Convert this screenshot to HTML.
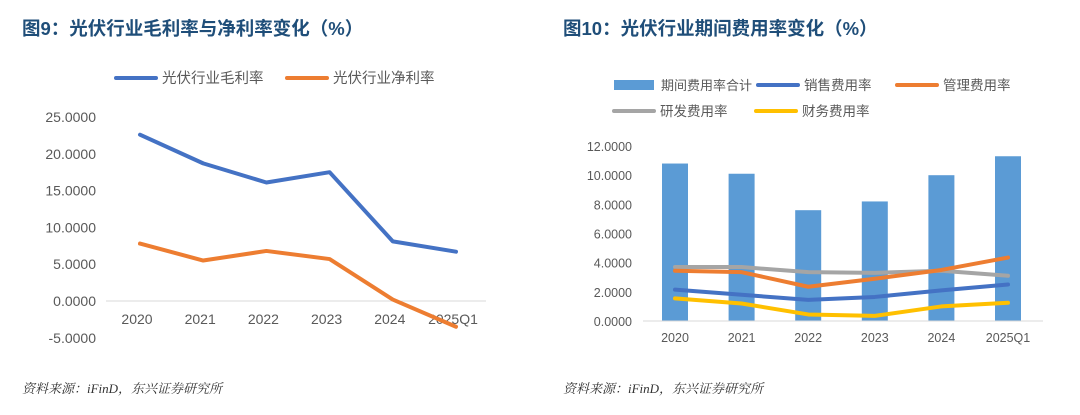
<!DOCTYPE html>
<html><head><meta charset="utf-8">
<style>
body{margin:0;background:#fff;width:1080px;height:415px;overflow:hidden;font-family:"Liberation Sans","Noto Sans CJK SC",sans-serif;}
svg{position:absolute;left:0;top:0}
</style></head>
<body>
<svg width="1080" height="415">
<text x="22" y="35" font-size="18.5" font-weight="bold" fill="#1f4e79">图9：光伏行业毛利率与净利率变化（%）</text>
<text x="563" y="35" font-size="18.5" font-weight="bold" fill="#1f4e79">图10：光伏行业期间费用率变化（%）</text>
<g id="left"></g>
<g id="right"></g>
<text x="22" y="393" font-size="13" font-style="italic" fill="#333" font-family="'Liberation Serif','Noto Serif CJK SC',serif">资料来源：iFinD，东兴证券研究所</text>
<text x="563" y="393" font-size="13" font-style="italic" fill="#333" font-family="'Liberation Serif','Noto Serif CJK SC',serif">资料来源：iFinD，东兴证券研究所</text>
</svg>
<script>
const categories=["2020","2021","2022","2023","2024","2025Q1"];
const grossMargin=[22.6,18.7,16.1,17.5,8.1,6.7];
const netMargin=[7.8,5.5,6.8,5.7,0.2,-3.5];
const leftTicks=[25,20,15,10,5,0,-5];
const totalExpense=[10.8,10.1,7.6,8.2,10.0,11.3];
const salesExpense=[2.15,1.8,1.45,1.65,2.1,2.5];
const adminExpense=[3.45,3.35,2.35,2.9,3.5,4.35];
const rdExpense=[3.7,3.7,3.35,3.3,3.45,3.1];
const finExpense=[1.55,1.2,0.45,0.35,1.0,1.25];
const rightTicks=[12,10,8,6,4,2,0];
const NS="http://www.w3.org/2000/svg";
function mk(p,tag,attrs){const e=document.createElementNS(NS,tag);for(const k in attrs)e.setAttribute(k,attrs[k]);p.appendChild(e);return e;}
function txt(p,x,y,s,attrs){const e=mk(p,'text',Object.assign({x:x,y:y,'font-size':13,fill:'#595959'},attrs||{}));e.textContent=s;return e;}
// left chart
const L=document.getElementById('left');
const lx=i=>140+i*63.2, ly=v=>301-v*7.36;
const lgrid=mk(L,'line',{x1:106,x2:486,y1:ly(0),y2:ly(0),stroke:'#d9d9d9','stroke-width':1});

leftTicks.forEach(v=>{const t=txt(L,96,ly(v)+5,v.toFixed(4),{'text-anchor':'end','font-size':14});});
categories.forEach((c,i)=>{const t=txt(L,lx(i)-3,ly(0)+23,c,{'text-anchor':'middle','font-size':14});});
function line(p,arr,xf,yf,col,w,name){const pl=mk(p,'polyline',{points:arr.map((v,i)=>xf(i)+','+yf(v)).join(' '),fill:'none',stroke:col,'stroke-width':w,'stroke-linejoin':'round','stroke-linecap':'round'});}
line(L,grossMargin,lx,ly,'#4472c4',4,'gross-margin-line');
line(L,netMargin,lx,ly,'#ed7d31',4,'net-margin-line');
function legLine(p,x,y,col,label,name,fs){const g=mk(p,'g',{});mk(g,'line',{x1:x,x2:x+40,y1:y,y2:y,stroke:col,'stroke-width':4,'stroke-linecap':'round'});txt(g,x+46,y+5,label,{'font-size':fs||13.5});}
legLine(L,116,78,'#4472c4','光伏行业毛利率','legend-gross-margin',14.5);
legLine(L,287,78,'#ed7d31','光伏行业净利率','legend-net-margin',14.5);
// right chart
const R=document.getElementById('right');
const rx=i=>675+i*66.6, ry=v=>321-v*14.58;
totalExpense.forEach((v,i)=>{const b=mk(R,'rect',{x:rx(i)-13,y:ry(v),width:26,height:ry(0)-ry(v),fill:'#5b9bd5'});});
const rgrid=mk(R,'line',{x1:643,x2:1043,y1:ry(0),y2:ry(0),stroke:'#d9d9d9','stroke-width':1});

rightTicks.forEach(v=>{const t=txt(R,632,ry(v)+5,v.toFixed(4),{'text-anchor':'end','font-size':12.5});});
categories.forEach((c,i)=>{const t=txt(R,rx(i),ry(0)+21,c,{'text-anchor':'middle','font-size':12.5});});
line(R,rdExpense,rx,ry,'#a5a5a5',4,'rd-expense-line');
line(R,adminExpense,rx,ry,'#ed7d31',4,'admin-expense-line');
line(R,salesExpense,rx,ry,'#4472c4',4,'sales-expense-line');
line(R,finExpense,rx,ry,'#ffc000',4,'finance-expense-line');
const lg=mk(R,'g',{});
mk(lg,'rect',{x:614,y:80,width:40,height:10,fill:'#5b9bd5'});txt(lg,661,90,'期间费用率合计');
legLine(R,758,85,'#4472c4','销售费用率','legend-sales-expense');
legLine(R,897,85,'#ed7d31','管理费用率','legend-admin-expense');
legLine(R,614,111,'#a5a5a5','研发费用率','legend-rd-expense');
legLine(R,756,111,'#ffc000','财务费用率','legend-finance-expense');
</script>
</body></html>
